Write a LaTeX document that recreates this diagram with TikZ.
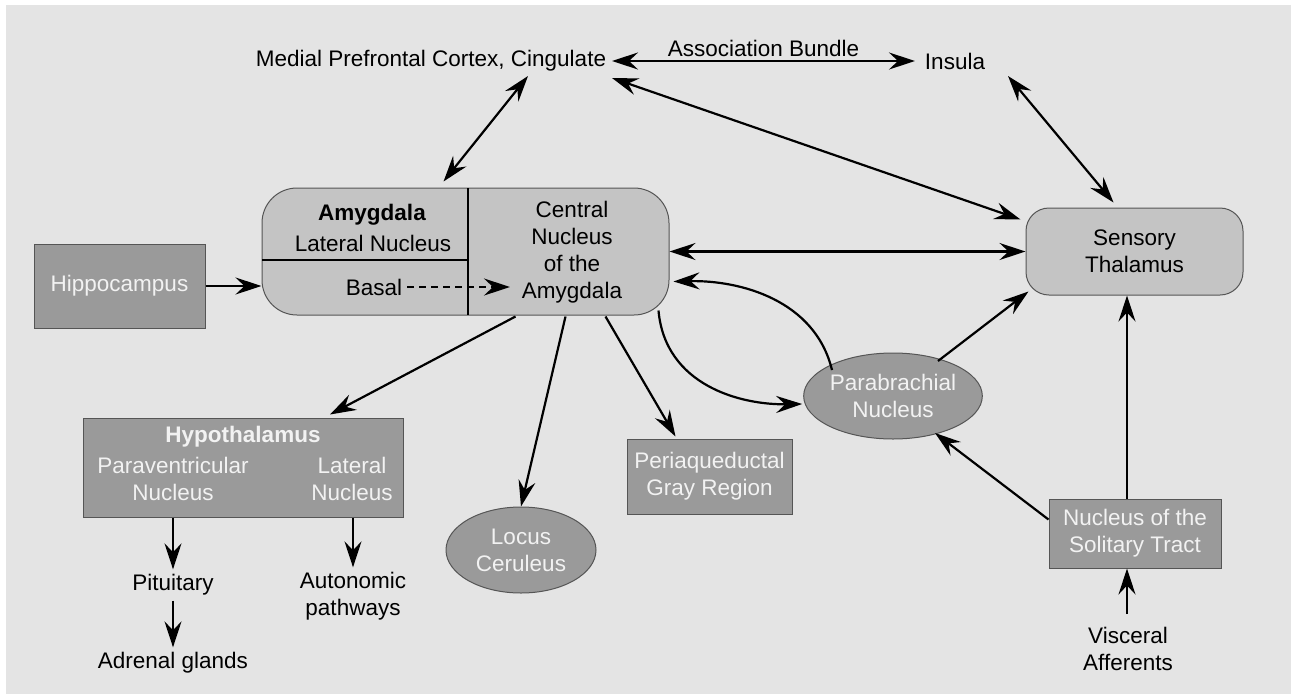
\documentclass[tikz,border=0pt]{standalone}
\usepackage{fontspec}
\setmainfont{Liberation Sans}
\usetikzlibrary{arrows.meta,shapes.geometric,calc}
\definecolor{bg}{HTML}{E4E4E4}
\definecolor{boxlight}{HTML}{C4C4C4}
\definecolor{boxdark}{HTML}{9A9A9A}
\definecolor{edgegray}{HTML}{555555}
\definecolor{wtext}{HTML}{F2F2F2}
\begin{document}
\begin{tikzpicture}[x=1pt,y=-1pt,
  every node/.style={font=\fontsize{22.5}{27}\selectfont, align=center, inner sep=5pt},
  lightbox/.style={draw=edgegray, line width=1pt, fill=boxlight},
  darkbox/.style={draw=edgegray, line width=1pt, fill=boxdark, text=wtext},
  darkell/.style={ellipse, draw=edgegray, line width=1pt, fill=boxdark, text=wtext, inner sep=0pt, minimum width=150pt, minimum height=86pt},
  arr/.style={line width=2.2pt, -{Stealth[length=26pt,width=17pt,inset=9pt]}},
  darr/.style={line width=2.2pt, {Stealth[length=26pt,width=17pt,inset=9pt]}-{Stealth[length=26pt,width=17pt,inset=9pt]}},
  dasharr/.style={line width=2.2pt, dash pattern=on 7pt off 5pt, -{Stealth[length=26pt,width=17pt,inset=9pt]}}
]
\useasboundingbox (0,0) rectangle (1291,694);
\fill[white] (0,0) rectangle (1291,694);
\fill[bg] (6,5) rectangle (1291,694);

% amygdala complex
\node[lightbox, rounded corners=35pt, minimum width=407pt, minimum height=127pt] (amy) at (465.5,251.5) {};
\draw[line width=2.5pt] (468,188) -- (468,315);
\draw[line width=1.8pt] (262,260) -- (468,260);
\node (amyt) at (372,215) {\bfseries Amygdala};
\node (lat) at (373,243) {Lateral Nucleus};
\node (basal) at (374,287) {Basal};
\node (cen) at (572,252.5) {Central\\Nucleus\\of the\\Amygdala};
\coordinate (basalend) at (510,287);
\draw[dasharr] (basal.east) -- (basalend);

% other nodes
\node (mpfc) at (431,61) {Medial Prefrontal Cortex, Cingulate};
\node (ins) at (955,61) {Insula};
\node[darkbox, minimum width=171pt, minimum height=84pt] (hip) at (119.5,286) {Hippocampus};
\node[lightbox, rounded corners=23pt, minimum width=217pt, minimum height=87pt] (thal) at (1134.5,251.5) {Sensory\\Thalamus};
\node[darkbox, minimum width=320pt, minimum height=99pt] (hyp) at (243,467.5) {};
\node[text=wtext] (hypt) at (243,437) {\bfseries Hypothalamus};
\node[text=wtext] (pvn) at (173,478.5) {Paraventricular\\Nucleus};
\node[text=wtext] (lhn) at (352,478.5) {Lateral\\Nucleus};
\node (pit) at (173,585) {Pituitary};
\node (adr) at (173,663) {Adrenal glands};
\node (aut) at (353,596.5) {Autonomic\\pathways};
\node[darkell] (lc) at (521,550) {Locus\\Ceruleus};
\node[darkbox, minimum width=165pt, minimum height=75pt] (pag) at (709.5,476.5) {Periaqueductal\\Gray Region};
\node[darkell] (pb) at (893,396) {Parabrachial\\Nucleus};
\node[darkbox, minimum width=172pt, minimum height=69pt] (nts) at (1135,533.5) {Nucleus of the\\Solitary Tract};
\node (visc) at (1128,649) {Visceral\\Afferents};

% connectors
\draw[darr] ($(mpfc.center)+(181,0)$) -- node[above=1pt, inner sep=2pt] (ab) {Association Bundle} ($(ins.center)+(-40,0)$);
\draw[darr] ($(amy.north)+(-22,-6)$) -- ($(mpfc.center)+(97,15)$);
\draw[darr] ($(mpfc.center)+(181,17)$) -- ($(thal.north west)+(-5,12)$);
\draw[darr] ($(ins.center)+(53,15)$) -- ($(thal.north)+(-21,-5)$);
\draw[darr] (amy.east) -- (thal.west);
\draw[arr] (hip.east) -- (hip.east -| amy.west);
\draw[arr] ($(pb.center)+(45,-35)$) -- ($(thal.south west)+(3,-4)$);
\draw[arr] ($(nts.west)+(0,-14)$) -- ($(pb.center)+(42,37)$);
\draw[arr] ($(nts.north)+(-8,0)$) -- ($(thal.south)+(-7.5,0)$);
\draw[arr] ($(visc.north)+(-1,-8)$) -- ($(nts.south)+(-8,0)$);
\draw[arr] ($(amy.south)+(50,1)$) -- ($(hyp.north)+(87,-3)$);
\draw[arr] ($(amy.south)+(100,1)$) -- (lc.north);
\draw[arr] ($(amy.south)+(140,1)$) -- ($(pag.north)+(-34,-2)$);
\draw[arr] ($(amy.south east)+(-11,-5)$) .. controls (665,385) and (740,405) .. ($(pb.west)+(-1,8)$);
\draw[arr] ($(pb.center)+(-61,-26)$) .. controls (815,300) and (740,280) .. ($(amy.east)+(4,30)$);
\draw[arr] (hyp.south -| pit) -- (pit.north);
\draw[arr] (pit.south) -- (adr.north);
\draw[arr] (hyp.south -| aut) -- (aut.north);
\end{tikzpicture}
\end{document}
